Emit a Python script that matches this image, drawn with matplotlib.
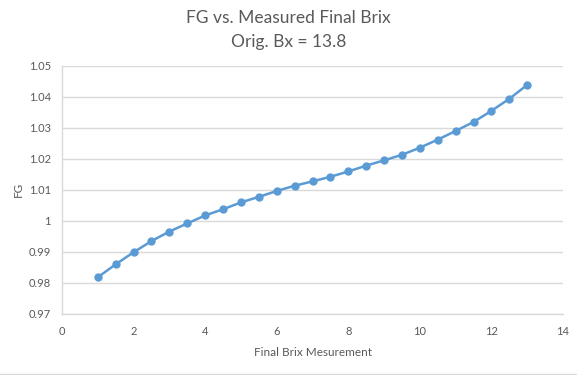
import matplotlib
matplotlib.use("Agg")
import matplotlib.pyplot as plt
from matplotlib.lines import Line2D

# final brix readings and estimated FG
brix = [1, 1.5, 2, 2.5, 3, 3.5, 4, 4.5, 5, 5.5, 6, 6.5, 7,
        7.5, 8, 8.5, 9, 9.5, 10, 10.5, 11, 11.5, 12, 12.5, 13]
fg = [0.9817, 0.9859, 0.9898, 0.9934, 0.9965, 0.9991, 1.0017, 1.0037,
      1.0059, 1.0077, 1.0096, 1.0113, 1.0127, 1.0142, 1.0159, 1.0178,
      1.0195, 1.0213, 1.0236, 1.0262, 1.0290, 1.0319, 1.0355, 1.0394, 1.0439]

x_ticks = [0, 2, 4, 6, 8, 10, 12, 14]
y_ticks = [0.97, 0.98, 0.99, 1.0, 1.01, 1.02, 1.03, 1.04, 1.05]
y_labels = ["0.97", "0.98", "0.99", "1", "1.01", "1.02", "1.03", "1.04", "1.05"]

plt.rcParams['font.family'] = ['Lato', 'DejaVu Sans']
text_col = "#595959"
grid_col = "#d9d9d9"
line_col = "#5b9bd5"

fig = plt.figure(figsize=(5.77, 3.75), dpi=100)
ax = fig.add_axes([62 / 577, 1 - 313.5 / 375, (563 - 62) / 577, (313.5 - 66) / 375])

ax.plot(brix, fg, color=line_col, linewidth=1.8, marker="o", markersize=5,
        markerfacecolor=line_col, markeredgecolor=line_col, zorder=3)

ax.set_xlim(0, 14)
ax.set_ylim(0.97, 1.05)
ax.set_xticks(x_ticks)
ax.set_yticks(y_ticks)
ax.set_yticklabels(y_labels)
ax.grid(axis="y", color=grid_col, linewidth=1)
ax.set_axisbelow(True)

for side in ["top", "right"]:
    ax.spines[side].set_visible(False)
for side in ["left", "bottom"]:
    ax.spines[side].set_color(grid_col)
    ax.spines[side].set_linewidth(1)

ax.tick_params(length=0, labelsize=8, colors=text_col, pad=8)
ax.tick_params(axis="x", pad=9)

ax.set_xlabel("Final Brix Mesurement", fontsize=8.5, color=text_col, labelpad=7)
ax.set_ylabel("FG", fontsize=8.5, color=text_col, labelpad=3)

fig.text(0.5, 1 - 18 / 375, "FG vs. Measured Final Brix", ha="center", va="center",
         fontsize=12.5, color=text_col)
fig.text(0.5, 1 - 42 / 375, "Orig. Bx = 13.8", ha="center", va="center",
         fontsize=12.5, color=text_col)

# faint border line at the bottom of the chart area
fig.add_artist(Line2D([0, 1], [1 - 374 / 375, 1 - 374 / 375], color=grid_col,
                      linewidth=1, transform=fig.transFigure))

fig.savefig("out.png", dpi=100)
